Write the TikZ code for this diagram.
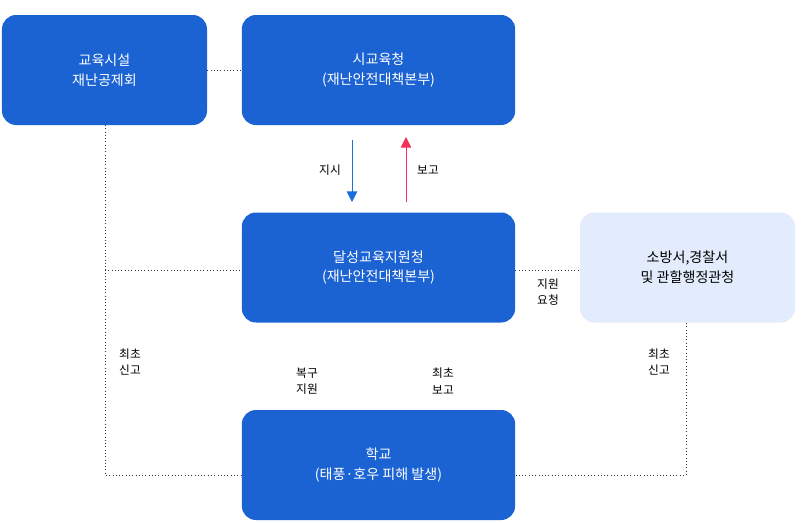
\documentclass[tikz,border=0pt]{standalone}
\usepackage{fontspec}
\setmainfont{Noto Sans CJK KR}
\usetikzlibrary{arrows.meta,positioning}
\definecolor{boxblue}{HTML}{1B62D3}
\definecolor{boxlight}{HTML}{E3ECFC}
\definecolor{redarrow}{HTML}{F2305B}
\definecolor{bluearrow}{HTML}{1570D9}
\tikzset{
  org/.style={rounded corners=12pt,fill=boxblue,text=white,align=center,
    minimum height=3.3cm,font=\fontsize{12}{17}\selectfont},
  orglight/.style={org,fill=boxlight,text=black},
  link/.style={dotted,thick,black!80},
  lbl/.style={align=center,font=\fontsize{10}{14}\selectfont}
}
\begin{document}
\begin{tikzpicture}[x=0.03cm,y=-0.03cm]
  \useasboundingbox (0,0) rectangle (802,522);
  \node[org,minimum width=6.15cm] (fund) at (104.5,70) {교육시설\\재난공제회};
  \node[org,minimum width=8.2cm] (city) at (378.5,70) {시교육청\\(재난안전대책본부)};
  \node[org,minimum width=8.2cm] (dist) at (378.5,267.5) {달성교육지원청\\(재난안전대책본부)};
  \node[orglight,minimum width=6.45cm] (fire) at (687.5,267.5) {소방서,경찰서\\및 관할행정관청};
  \node[org,minimum width=8.2cm] (school) at (378.5,465) {학교\\(태풍·호우 피해 발생)};
  % arrows between offices
  \draw[-{Triangle[length=9pt,width=9pt]},thick,bluearrow] (352,140) -- (352,202);
  \draw[-{Triangle[length=9pt,width=9pt]},thick,redarrow] (406,202) -- (406,137);
  \node[lbl] at (330,170) {지시};
  \node[lbl] at (428,170) {보고};
  % dotted links
  \coordinate (fb) at (105,125);
  \coordinate (fm) at (105,270);
  \coordinate (fe) at (105,475);
  \coordinate (rb) at (686,323);
  \coordinate (re) at (686,475);
  \draw[link] (fund.east) -- (city.west);
  \draw[link] (fb) -- (fe) -- (school.west |- fe);
  \draw[link] (fm) -- (dist.west |- fm);
  \draw[link] (dist.east |- fm) -- (fire.west |- fm);
  \draw[link] (rb) -- (re) -- (school.east |- re);
  \node[lbl] at (548,292) {지원\\요청};
  \node[lbl] at (130,362) {최초\\신고};
  \node[lbl] at (307,381) {복구\\지원};
  \node[lbl] at (443,381) {최초\\보고};
  \node[lbl] at (659,362) {최초\\신고};
\end{tikzpicture}
\end{document}
